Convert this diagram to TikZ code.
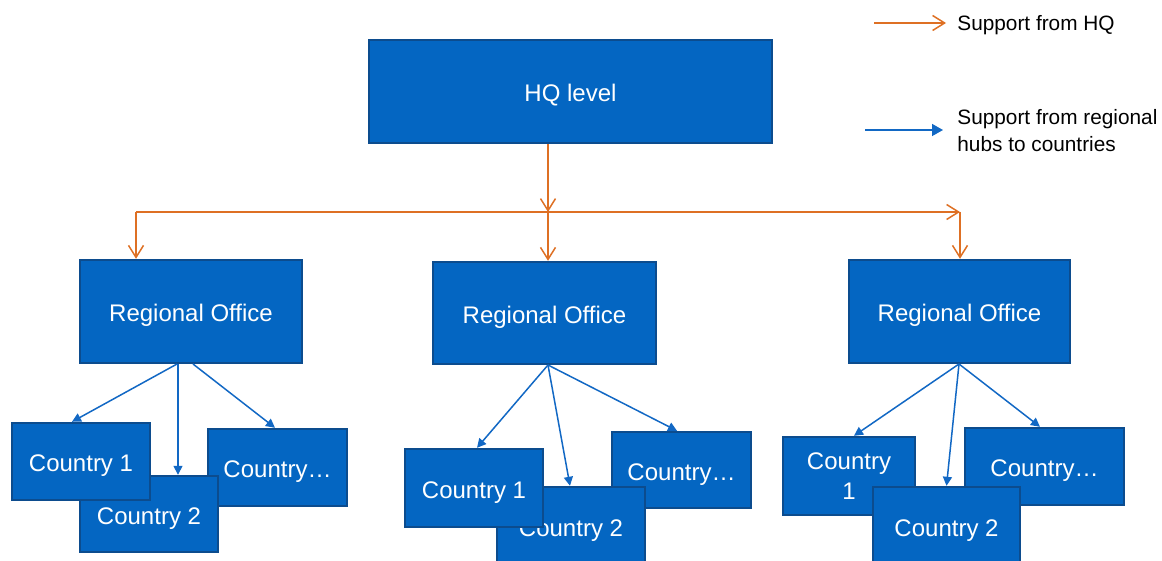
\documentclass[tikz,border=0pt]{standalone}
\usepackage{fontspec}
\setmainfont{Liberation Sans}
\usetikzlibrary{arrows.meta,calc}
\definecolor{boxfill}{RGB}{4,102,194}
\definecolor{boxline}{RGB}{12,76,142}
\definecolor{hqorange}{RGB}{222,112,36}
\definecolor{hubblue}{RGB}{18,104,196}
\tikzset{
  boxbase/.style={draw=boxline, fill=boxfill, line width=1.2pt, inner sep=0pt,
    text=white, align=center, font=\fontsize{12}{15}\selectfont},
  box/.style={boxbase, text height=10.4pt, text depth=0pt},
  orarrow/.style={draw=hqorange, line width=0.75pt, -{Straight Barb[length=6pt,width=7.5pt]}},
  blarrow/.style={draw=hubblue, line width=0.75pt, -{Triangle[length=4.5pt,width=4.5pt]}},
  legtext/.style={anchor=west, inner sep=0pt, align=left, font=\fontsize{10.4}{13.5}\selectfont}
}
\begin{document}
\begin{tikzpicture}[x=0.5pt,y=-0.5pt]
\useasboundingbox (0,0) rectangle (1162,561);
\begin{scope}
\clip (0,0) rectangle (1162,561);
% HQ
\node[box, minimum width=201.5pt, minimum height=51.5pt] (hq) at (570.5,91.5) {HQ level};
% Regional offices
\node[box, minimum width=111pt, minimum height=51.5pt] (r1) at (191,311.5) {Regional Office};
\node[box, minimum width=111.5pt, minimum height=51pt] (r2) at (544.5,313) {Regional Office};
\node[box, minimum width=110.5pt, minimum height=51.5pt] (r3) at (959.5,311.5) {Regional Office};
% Left group
\node[box, minimum width=69.5pt, minimum height=38.5pt] (c13) at (277.5,467.5) {Country\ldots};
\node[box, minimum width=69pt, minimum height=38pt] (c12) at (149,514) {Country 2};
\node[box, minimum width=69pt, minimum height=38.5pt] (c11) at (81,461.5) {Country 1};
% Middle group
\node[box, minimum width=69.5pt, minimum height=38pt] (c23) at (681.5,470) {Country\ldots};
\node[box, minimum width=74pt, minimum height=39pt] (c22) at (571,526) {Country 2};
\node[box, minimum width=69pt, minimum height=39pt] (c21) at (474,488) {Country 1};
% Right group
\node[boxbase, minimum width=66pt, minimum height=39pt] (c31) at (849,476) {Country\\1};
\node[box, minimum width=79.5pt, minimum height=38.5pt] (c33) at (1044.5,466.5) {Country\ldots};
\node[box, minimum width=73.5pt, minimum height=39pt] (c32) at (946.5,526) {Country 2};
% Orange support from HQ
\coordinate (j) at (548,212);
\coordinate (jl) at (136,212);
\coordinate (jr) at (960,212);
\draw[orarrow] (hq.south -| j) -- (j);
\draw[orarrow] (j) -- (r2.north -| j);
\draw[orarrow] (jl) -- (jr);
\draw[orarrow] (jl) -- (r1.north -| jl);
\draw[orarrow] (jr) -- (r3.north -| jr);
% Blue support from regional hubs
\coordinate (o1a) at (177,364);
\coordinate (o1b) at (178,364);
\coordinate (o1c) at (193,364);
\draw[blarrow] (o1a) -- ([xshift=-4.5pt]c11.north);
\draw[blarrow] (o1b) -- ([xshift=14.5pt]c12.north);
\draw[blarrow] (o1c) -- ([xshift=-1.25pt]c13.north);
\coordinate (o2) at (548,365);
\draw[blarrow] (o2) -- ([xshift=1.5pt]c21.north);
\draw[blarrow] (o2) -- ([xshift=-0.5pt]c22.north);
\draw[blarrow] (o2) -- ([xshift=-2.25pt]c23.north);
\coordinate (o3) at (959,364);
\draw[blarrow] (o3) -- ([xshift=2.5pt]c31.north);
\draw[blarrow] (o3) -- (c32.north);
\draw[blarrow] (o3) -- ([xshift=-2.25pt]c33.north);
% Legend
\coordinate (la) at (874,23);
\coordinate (lb) at (946,23);
\draw[orarrow] (la) -- (lb);
\node[legtext] (lt1) at (957,25) {Support from HQ};
\coordinate (lc) at (865,130);
\coordinate (ld) at (943,130);
\draw[draw=hubblue, line width=0.75pt, -{Triangle[length=5.5pt,width=6pt]}] (lc) -- (ld);
\node[legtext] (lt2) at (957,131) {Support from regional\\hubs to countries};
\end{scope}
\end{tikzpicture}
\end{document}
